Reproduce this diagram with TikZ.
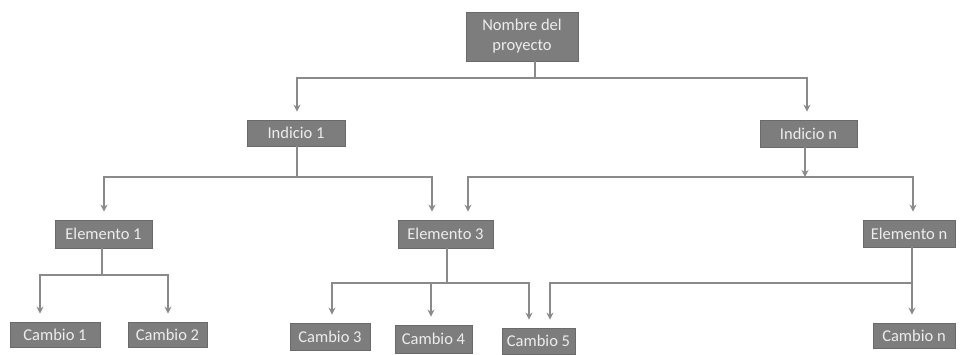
\documentclass[tikz,border=0pt]{standalone}
\usepackage{fontspec}
\setmainfont{Carlito}
\usetikzlibrary{arrows.meta,calc}
\definecolor{boxgray}{HTML}{7D7D7D}
\definecolor{boxedge}{HTML}{6A6A6A}
\definecolor{linegray}{HTML}{8A8A8A}
\definecolor{txtgray}{HTML}{EDEDED}
\tikzset{
  box/.style={rectangle, fill=boxgray, draw=boxedge, line width=0.8pt, text=txtgray,
    font=\fontsize{16.5}{20}\selectfont, inner sep=0pt, align=center},
  conn/.style={draw=linegray, line width=1.3pt},
  arr/.style={conn, -{Stealth[length=7pt,width=7pt]}, shorten >=8pt}
}
\begin{document}
\begin{tikzpicture}[x=1pt,y=-1pt]
\useasboundingbox (0,0) rectangle (962,354);
% nodes
\node[box, minimum width=112pt, minimum height=49pt] (top) at (522,36.5) {Nombre del\\proyecto};
\node[box, minimum width=98pt, minimum height=26pt] (i1) at (296,133) {Indicio 1};
\node[box, minimum width=97pt, minimum height=27pt] (in) at (808.5,133.5) {Indicio n};
\node[box, minimum width=97pt, minimum height=28pt] (e1) at (103.5,234) {Elemento 1};
\node[box, minimum width=95pt, minimum height=28pt] (e3) at (445.5,234) {Elemento 3};
\node[box, minimum width=92pt, minimum height=27pt] (en) at (909,233.5) {Elemento n};
\node[box, minimum width=90pt, minimum height=25pt] (c1) at (55,334.5) {Cambio 1};
\node[box, minimum width=79pt, minimum height=25pt] (c2) at (167.5,334.5) {Cambio 2};
\node[box, minimum width=80pt, minimum height=27pt] (c3) at (330,336.5) {Cambio 3};
\node[box, minimum width=77pt, minimum height=28pt] (c4) at (433.5,339) {Cambio 4};
\node[box, minimum width=73pt, minimum height=26pt] (c5) at (538.5,341) {Cambio 5};
\node[box, minimum width=82pt, minimum height=25pt] (cn) at (914,335.5) {Cambio n};
% junction coordinates
\coordinate (j0) at (535,78);
\coordinate (j1) at (297,177);
\coordinate (jn) at (805,177);
\coordinate (je1) at (102,275);
\coordinate (je3) at (447,283);
\coordinate (jen) at (912,283);
% top level
\draw[conn] (top.south -| j0) -- (j0);
\draw[arr] (j0) -| (i1.north -| 297,0);
\draw[arr] (j0) -| (in.north -| 807,0);
% Indicio 1
\draw[conn] (i1.south -| j1) -- (j1);
\draw[arr] (j1) -| (e1.north -| 104,0);
\draw[arr] (j1) -| (e3.north -| 432,0);
% Indicio n
\draw[conn, -{Stealth[length=7pt,width=7pt]}] (in.south -| jn) -- (jn);
\draw[arr] (jn) -| (e3.north -| 468,0);
\draw[arr] (jn) -| (en.north -| 913,0);
% Elemento 1
\draw[conn] (e1.south -| je1) -- (je1);
\draw[arr] (je1) -| (c1.north -| 40,0);
\draw[arr] (je1) -| (c2.north -| 168,0);
% Elemento 3
\draw[conn] (e3.south -| je3) -- (je3);
\draw[arr] (je3) -| (c3.north -| 332,0);
\draw[arr] (je3) -- (je3 -| 431,0) -- (c4.north -| 431,0);
\draw[arr] (je3) -| (c5.north -| 529,0);
% Elemento n
\draw[conn] (en.south -| jen) -- (jen);
\draw[arr] (jen) -- (cn.north -| jen);
\draw[arr] (jen) -| (c5.north -| 550,0);
\end{tikzpicture}
\end{document}
